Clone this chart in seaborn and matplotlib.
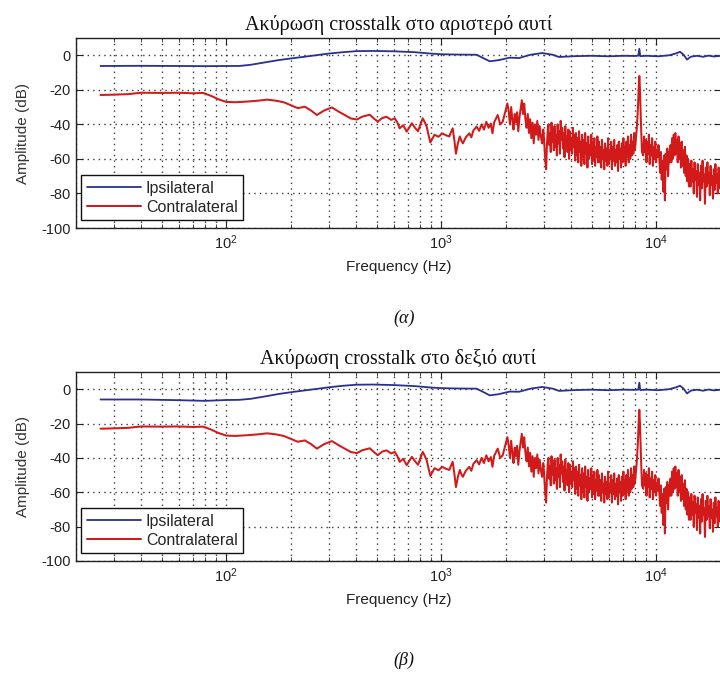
import numpy as np
import pandas as pd
import matplotlib
matplotlib.use("Agg")
import matplotlib.pyplot as plt
import seaborn as sns
from matplotlib.ticker import LogLocator, FixedLocator, NullFormatter

sns.set_theme(style="white")
plt.rcParams["font.family"] = ["Liberation Sans", "DejaVu Sans"]
plt.rcParams["axes.unicode_minus"] = False

# ---- Ipsilateral responses (Hz, dB) ----
ipsi_freq = [26, 40, 60, 80, 100, 115, 130, 150, 175, 210, 250, 300, 350, 405,
             480, 600, 750, 890, 1000, 1200, 1460, 1560, 1680, 1850, 2080, 2300,
             2600, 2950, 3300, 3530, 4200, 5000, 6000, 7000, 8000, 8250, 8340,
             8420, 9000, 10200, 11500, 12300, 12900, 13400, 13900, 14500, 15500,
             16500, 17500, 18500, 20000]
ipsi_left_db = [-6.2, -6.1, -6.2, -6.3, -6.2, -6.2, -5.5, -4.2, -2.8, -1.5, -0.3,
                1.0, 1.8, 2.4, 2.5, 2.3, 1.8, 1.0, 0.6, 0.4, 0.3, -1.5, -3.5, -2.8,
                -1.4, -1.6, 0.3, 1.3, 0.3, -1.0, -0.5, -0.3, -0.6, -0.3, -0.4, -0.2,
                3.8, -0.5, -0.3, -0.6, 0.0, 1.0, 2.0, 0.3, -2.5, -0.8, -0.3, -0.9,
                -0.2, -0.7, -0.3]
ipsi_right_db = [-6.0, -6.0, -6.4, -6.8, -6.3, -6.2, -5.6, -4.3, -2.8, -1.4, -0.2,
                 1.1, 2.0, 2.6, 2.7, 2.4, 1.8, 1.0, 0.6, 0.4, 0.3, -1.5, -3.6, -2.9,
                 -1.4, -1.5, 0.3, 1.3, 0.3, -1.0, -0.5, -0.3, -0.6, -0.3, -0.4, -0.2,
                 3.8, -0.5, -0.3, -0.6, 0.0, 1.0, 2.0, 0.3, -2.5, -0.8, -0.3, -0.9,
                 -0.2, -0.7, -0.3]

# ---- Contralateral response, low and mid band (Hz, dB) ----
contra_freq = [26, 30, 35, 40, 50, 60, 70, 78, 85, 92, 100, 110, 125, 140, 155,
               170, 185, 200, 215, 232, 248, 264, 285, 310, 335, 360, 380, 405,
               430, 465, 490, 507, 530, 556, 585, 608, 625, 640, 665, 690, 710,
               730, 755, 780, 800, 820, 838, 855, 872, 890, 910, 930, 970, 1010,
               1050, 1090, 1110, 1130, 1150, 1170, 1195, 1220, 1240, 1260, 1300,
               1350, 1380, 1410, 1460, 1500, 1540, 1580, 1620, 1660, 1700, 1730,
               1760, 1800, 1830, 1880, 1930, 1980, 2030]
contra_db = [-23, -22.8, -22.5, -21.7, -21.8, -21.7, -22, -21.8, -23.5, -25.5,
             -27, -27.2, -26.8, -26.3, -25.7, -26.3, -27.2, -29, -30.6, -29.8,
             -32, -34.6, -32, -30.2, -32.8, -35, -36.6, -37.2, -35.5, -34.4, -37,
             -38.4, -36.4, -35.6, -37.4, -36.5, -39, -42.3, -40.5, -44.2, -41.8,
             -39.4, -42, -44, -40, -36.5, -38.8, -41.3, -46, -50.5, -48.2, -46,
             -47.2, -45.2, -46.3, -47, -44.5, -42.3, -49, -57, -51, -47, -49.5,
             -51, -47.5, -45.2, -47.5, -43.5, -41.3, -43.8, -40, -43, -38.5, -42,
             -39.5, -45.2, -39, -36.5, -34.6, -40, -38.5, -33, -27.9]

# ---- Contralateral response, dense high band (dB values per band) ----
band_a_hz = (2060, 2980)
band_a_db = [-33, -40, -30, -37, -43, -34, -39, -33, -44, -36, -31, -26, -34, -28,
             -37, -42, -34, -45, -37, -48, -39, -51, -40, -46, -38, -49, -41, -47,
             -51, -43]
band_b_hz = (3000, 7950)
band_b_db = [-47, -55, -62, -66, -52, -44,
             -40, -52, -45, -56, -39, -50, -43, -55, -41, -53, -46, -58, -40, -51,
             -44, -57, -38, -49, -42, -54, -45, -59, -41, -52, -47, -56, -43, -60,
             -44, -55, -48, -57, -42, -53, -46, -61,
             -45, -58, -48, -62, -44, -56, -50, -64, -46, -59, -49, -63, -45, -57,
             -51, -65, -47, -60, -52, -58, -46, -63, -50, -61, -48, -64, -53, -59,
             -47, -62,
             -50, -62, -53, -65, -49, -60, -55, -66, -51, -61, -54, -64, -48, -63,
             -56, -60, -50, -66, -53, -61, -49, -64, -55, -62, -52, -67, -50, -60,
             -54, -65, -51, -62, -48, -61, -53, -64, -50, -59, -47, -62, -52, -60,
             -46, -58, -50, -57, -45, -55]
spike_freq = [8020, 8120, 8220, 8290, 8340, 8400, 8480, 8580]
spike_db = [-50, -42, -30, -18, -12, -20, -38, -56]
band_c_hz = (8700, 20000)
band_c_db = [-58, -47, -56, -49, -62, -50, -57, -46, -63, -52, -58, -48, -64, -53,
             -60, -50, -62, -55, -59, -52,
             -60, -68, -56, -72, -61, -79, -58, -84, -57, -66, -54, -70, -56, -62,
             -52, -62, -48, -60, -46, -58, -45, -57, -49, -62, -47, -60, -51, -65,
             -50, -64, -55, -68, -53, -70, -58, -73, -60, -76,
             -63, -76, -61, -73, -66, -80, -62, -72, -67, -82, -63, -75, -68, -84,
             -64, -77, -61, -73, -69, -86, -65, -76, -62, -74, -68, -81, -64, -75,
             -70, -83, -66, -78, -63, -74, -69, -80, -65, -77, -68, -75]

series_names = ["Ipsilateral", "Contralateral"]
palette = {"Ipsilateral": "#2b2f8f", "Contralateral": "#d21a1a"}
line_widths = {"Ipsilateral": 1.3, "Contralateral": 1.45}


def contralateral_frame():
    freqs = list(contra_freq)
    vals = list(contra_db)
    for (lo, hi), db in ((band_a_hz, band_a_db), (band_b_hz, band_b_db)):
        freqs += list(np.geomspace(lo, hi, len(db)))
        vals += db
    freqs += spike_freq
    vals += spike_db
    freqs += list(np.geomspace(band_c_hz[0], band_c_hz[1], len(band_c_db)))
    vals += band_c_db
    return pd.DataFrame({"freq": freqs, "db": vals, "series": "Contralateral"})


def draw_panel(ax, ipsi_db, title):
    frames = {
        "Ipsilateral": pd.DataFrame({"freq": ipsi_freq, "db": ipsi_db,
                                     "series": "Ipsilateral"}),
        "Contralateral": contralateral_frame(),
    }
    for name in series_names:
        sns.lineplot(data=frames[name], x="freq", y="db", color=palette[name],
                     estimator=None, sort=True, linewidth=line_widths[name],
                     label=name, ax=ax)
    ax.set_xscale("log")
    ax.set_xlim(20, 20000)
    ax.set_ylim(-100, 10)
    ax.yaxis.set_major_locator(FixedLocator([-100, -80, -60, -40, -20, 0]))
    ax.xaxis.set_major_locator(LogLocator(base=10, numticks=10))
    ax.xaxis.set_minor_locator(LogLocator(base=10, subs=np.arange(2, 10), numticks=20))
    ax.xaxis.set_minor_formatter(NullFormatter())
    grid_kw = dict(linestyle=(0, (1, 3)), color="#3a3a3a", linewidth=1.0)
    ax.grid(True, which="major", axis="both", **grid_kw)
    ax.grid(True, which="minor", axis="x", **grid_kw)
    ax.tick_params(which="major", direction="in", length=5, width=0.8,
                   bottom=True, top=True, left=True, right=True,
                   labelsize=10.5, colors="#222222", pad=4)
    ax.tick_params(which="minor", direction="in", length=3, width=0.6,
                   bottom=True, top=True)
    for sp in ax.spines.values():
        sp.set_color("#222222")
        sp.set_linewidth(1.0)
    ax.set_xlabel("Frequency (Hz)", fontsize=11, color="#222222")
    ax.set_ylabel("Amplitude (dB)", fontsize=11, color="#333333")
    ax.xaxis.set_label_coords(0.5, -0.17)
    ax.yaxis.set_label_coords(-0.072, 0.5)
    ax.set_title(title, fontfamily="Liberation Serif", fontsize=14.5, pad=6, color="#111111")
    leg = ax.legend(loc="lower left", bbox_to_anchor=(0.008, 0.04), frameon=True,
                    fancybox=False, edgecolor="#111111", fontsize=11.5,
                    handlelength=3.4, borderpad=0.35, labelspacing=0.25,
                    handletextpad=0.3, borderaxespad=0)
    leg.get_frame().set_linewidth(1.0)
    leg.get_frame().set_alpha(1)


fig = plt.figure(figsize=(7.2, 6.77), dpi=100)
W, H = 720, 677
ax_top = fig.add_axes([76 / W, 1 - 228 / H, 645 / W, 190 / H])
ax_bot = fig.add_axes([76 / W, 1 - 561 / H, 645 / W, 189 / H])

draw_panel(ax_top, ipsi_left_db, "Ακύρωση crosstalk στο αριστερό αυτί")
draw_panel(ax_bot, ipsi_right_db, "Ακύρωση crosstalk στο δεξιό αυτί")

cap_font = dict(fontfamily="Liberation Serif", style="italic", fontsize=13,
                ha="center", va="center", color="#111111")
fig.text(404 / W, 1 - 318 / H, "(α)", **cap_font)
fig.text(404 / W, 1 - 660 / H, "(β)", **cap_font)

fig.savefig("out.png", dpi=100)
